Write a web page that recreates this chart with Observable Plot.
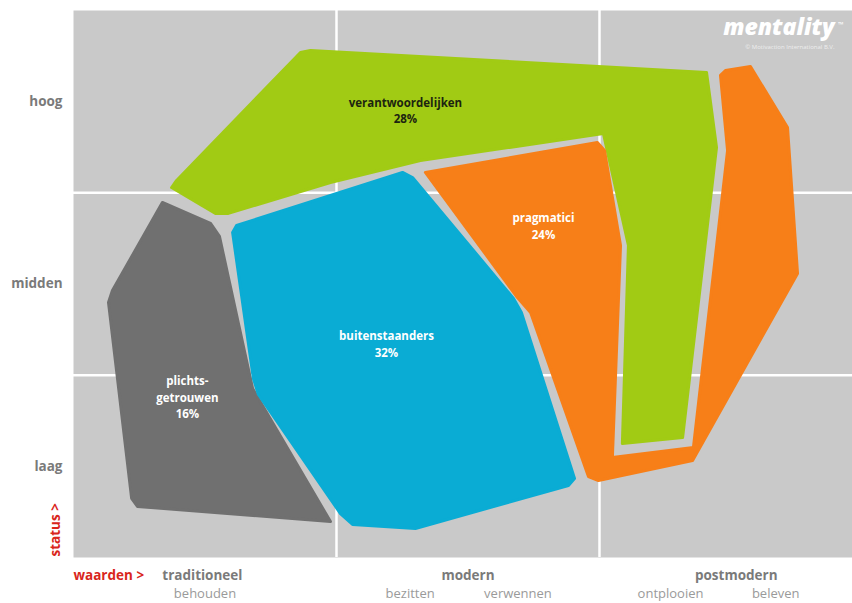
<!DOCTYPE html>
<html><head><meta charset="utf-8">
<script src="https://cdn.jsdelivr.net/npm/d3@7"></script>
<script src="https://cdn.jsdelivr.net/npm/@observablehq/plot@0.6"></script>
<style>
body{margin:0;background:#fff;}
#chart{width:852px;height:603px;overflow:hidden;}
</style>
</head><body><div id="chart"></div>
<script>
// ---- data (x: waarden axis 0..3 = traditioneel|modern|postmodern; y: status axis 0..3 = laag|midden|hoog)
const statusLevels = ["laag", "midden", "hoog"];
const statusMid = [0.5, 1.5, 2.5];
const valueOrientations = ["traditioneel", "modern", "postmodern"];
const valueMid = [0.49, 1.5, 2.52];
const motives = ["behouden", "bezitten", "verwennen", "ontplooien", "beleven"];
const motiveX = [0.5, 1.28, 1.69, 2.27, 2.67];

const segmentNames = ["plichts-\ngetrouwen", "buitenstaanders", "verantwoordelijken", "pragmatici"];
const segmentShares = [16, 32, 28, 24];
const segmentLabelX = [0.433, 1.19, 1.262, 1.787];
const segmentLabelY = [0.883, 1.176, 2.457, 1.824];

const plichtsgetrouwen = [
  [0.338,1.947],[0.521,1.832],[0.555,1.761],[0.681,0.927],[0.703,0.872],
  [0.977,0.197],[0.243,0.280],[0.221,0.324],[0.133,1.399],[0.148,1.464]
];
const buitenstaanders = [
  [0.620,1.821],[1.251,2.112],[1.289,2.084],[1.673,1.421],[1.703,1.344],
  [1.905,0.433],[1.882,0.395],[1.300,0.159],[1.061,0.181],[1.015,0.241],
  [0.703,0.894],[0.684,0.982],[0.605,1.782]
];
const verantwoordelijken = [
  [0.373,2.029],[0.392,2.068],[0.863,2.770],[0.901,2.781],[2.407,2.660],
  [2.445,2.249],[2.316,0.658],[2.087,0.625],[2.110,1.711],[2.015,2.325],
  [1.319,2.177],[0.977,2.057],[0.589,1.887],[0.540,1.887]
];
const pragmatici = [
  [1.338,2.112],[1.992,2.276],[2.019,2.232],[2.080,1.711],[2.049,0.548],
  [2.357,0.603],[2.487,2.232],[2.460,2.644],[2.479,2.671],[2.574,2.693],
  [2.715,2.358],[2.753,1.558],[2.354,0.532],[1.996,0.422],[1.958,0.444],
  [1.738,1.344],[1.688,1.426]
];

// ---- styles
const colors = {
  panel: "#c9c9c9", grid: "#ffffff", axis: "#7a7a7a", sub: "#9a9a9a", red: "#d9261c",
  plichtsgetrouwen: "#707070", buitenstaanders: "#0aacd4", verantwoordelijken: "#a1cb14", pragmatici: "#f77f18"
};
const font = "'Open Sans', 'DejaVu Sans', sans-serif";

const polys = [
  [plichtsgetrouwen, colors.plichtsgetrouwen],
  [buitenstaanders, colors.buitenstaanders],
  [verantwoordelijken, colors.verantwoordelijken],
  [pragmatici, colors.pragmatici]
];

const segLabels = segmentNames.map((n, i) => ({
  text: n + "\n" + segmentShares[i] + "%", x: segmentLabelX[i], y: segmentLabelY[i],
  dark: n === "verantwoordelijken"
}));

const chart = Plot.plot({
  width: 852, height: 603,
  marginLeft: 73, marginRight: 0, marginTop: 10, marginBottom: 46,
  x: {domain: [0, 2.962], axis: null},
  y: {domain: [0, 3], axis: null},
  style: {fontFamily: font, background: "#fff", overflow: "visible"},
  marks: [
    Plot.frame({fill: colors.panel, stroke: null}),
    Plot.ruleX([1, 2], {stroke: colors.grid, strokeWidth: 2.5}),
    Plot.ruleY([1, 2], {stroke: colors.grid, strokeWidth: 2.5}),
    ...polys.map(([pts, c]) => Plot.line(pts, {
      x: d => d[0], y: d => d[1], curve: "linear-closed",
      fill: c, stroke: c, strokeWidth: 3, strokeLinejoin: "round"
    })),
    Plot.text(segLabels, {
      x: "x", y: "y", text: "text", lineAnchor: "middle", lineHeight: 1.45,
      fill: d => d.dark ? "#1c2410" : "#ffffff", fontWeight: "bold", fontSize: 11.5
    }),
    // status axis labels
    Plot.text(statusLevels, {
      x: () => 0, y: (d, i) => statusMid[i], text: d => d, textAnchor: "end", dx: -11,
      fill: colors.axis, fontWeight: "bold", fontSize: 13.5
    }),
    Plot.text(["status >"], {
      x: () => 0, y: () => 0, text: d => d, rotate: -90, textAnchor: "start", dx: -18, dy: -1,
      fill: colors.red, fontWeight: "bold", fontSize: 13.5
    }),
    // waarden axis labels
    Plot.text(["waarden >"], {
      x: () => 0, y: () => 0, text: d => d, textAnchor: "start", dy: 18,
      fill: colors.red, fontWeight: "bold", fontSize: 13.5
    }),
    Plot.text(valueOrientations, {
      x: (d, i) => valueMid[i], y: () => 0, text: d => d, dy: 18,
      fill: colors.axis, fontWeight: "bold", fontSize: 13.5
    }),
    Plot.text(motives, {
      x: (d, i) => motiveX[i], y: () => 0, text: d => d, dy: 36,
      fill: colors.sub, fontSize: 13
    }),
    // logo
    Plot.text(["mentality"], {
      frameAnchor: "top-right", text: d => d, textAnchor: "end", lineAnchor: "top",
      dx: -18, dy: 8, fill: "#ffffff", fontWeight: 800, fontStyle: "italic", fontSize: 23
    }),
    Plot.text(["™"], {
      frameAnchor: "top-right", text: d => d, textAnchor: "end", lineAnchor: "top",
      dx: -9, dy: 12, fill: "#ffffff", fontWeight: "bold", fontSize: 7
    }),
    Plot.text(["© Motivaction International B.V."], {
      frameAnchor: "top-right", text: d => d, textAnchor: "end", lineAnchor: "top",
      dx: -18, dy: 34, fill: "#eeeeee", fontSize: 6
    })
  ]
});
document.getElementById("chart").appendChild(chart);
</script>
</body></html>
